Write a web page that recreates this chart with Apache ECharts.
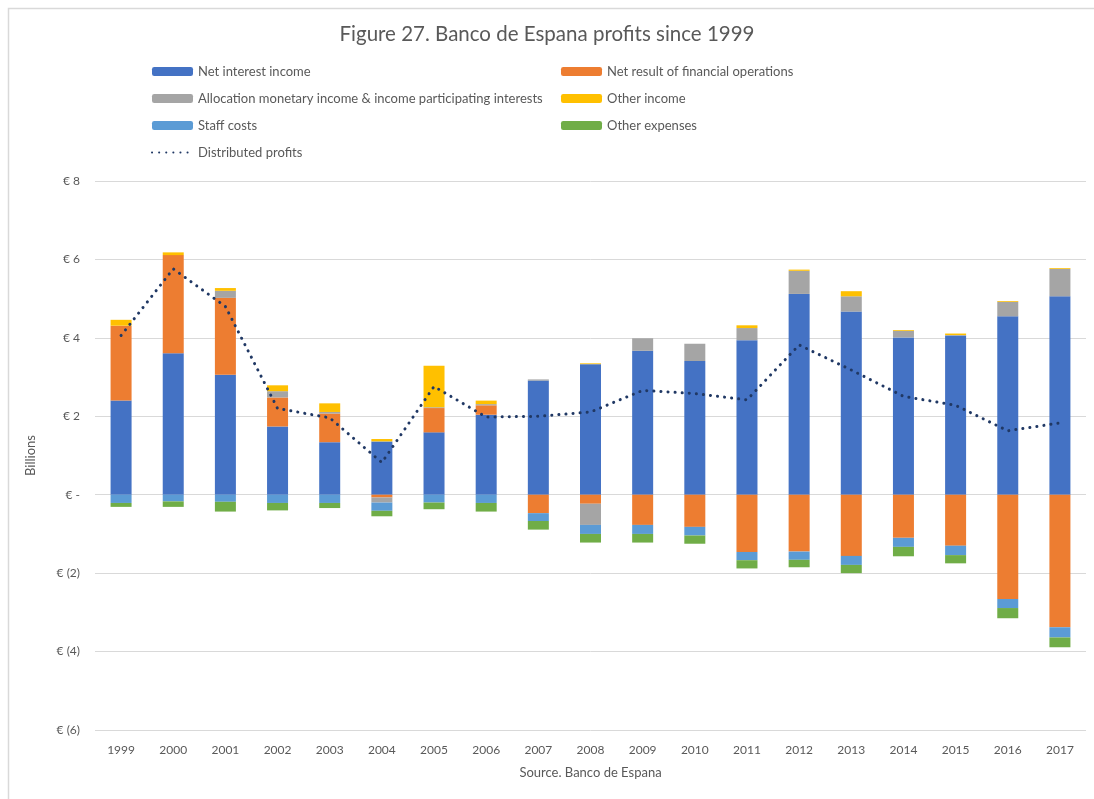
<!DOCTYPE html>
<html lang="en">
<head>
    <meta charset="UTF-8">
    <title>Banco de Espana profits</title>
</head>
<script src="https://cdn.jsdelivr.net/npm/echarts@6/dist/echarts.min.js"></script>
<body style="height: 100%; margin: 0">
<div id="container" style="width:1094px;height:799px;"></div>
<script>
    var years = ["1999","2000","2001","2002","2003","2004","2005","2006","2007","2008","2009","2010","2011","2012","2013","2014","2015","2016","2017"];
    var netInterest = [2.40, 3.61, 3.06, 1.74, 1.34, 1.36, 1.59, 2.04, 2.91, 3.33, 3.67, 3.41, 3.94, 5.12, 4.67, 4.01, 4.06, 4.55, 5.06];
    var netFinancial = [1.91, 2.50, 1.96, 0.74, 0.73, -0.07, 0.62, 0.24, -0.47, -0.23, -0.77, -0.82, -1.46, -1.45, -1.56, -1.10, -1.30, -2.66, -3.38];
    var allocation = [0, 0, 0.18, 0.16, 0.04, -0.13, 0.02, 0.03, 0.03, -0.54, 0.32, 0.44, 0.31, 0.59, 0.39, 0.17, 0.01, 0.37, 0.70];
    var otherIncome = [0.15, 0.07, 0.07, 0.15, 0.22, 0.06, 1.06, 0.09, 0, 0.02, 0, 0, 0.07, 0.03, 0.13, 0.02, 0.04, 0.02, 0.02];
    var staffCosts = [-0.21, -0.17, -0.18, -0.21, -0.21, -0.21, -0.20, -0.21, -0.20, -0.23, -0.23, -0.22, -0.21, -0.21, -0.23, -0.23, -0.24, -0.23, -0.26];
    var otherExpenses = [-0.10, -0.14, -0.25, -0.19, -0.13, -0.14, -0.17, -0.22, -0.22, -0.22, -0.22, -0.21, -0.21, -0.19, -0.21, -0.24, -0.21, -0.26, -0.25];
    var distributed = [4.06, 5.76, 4.80, 2.20, 1.96, 0.82, 2.76, 1.98, 2.00, 2.11, 2.66, 2.58, 2.42, 3.82, 3.18, 2.51, 2.28, 1.63, 1.83];

    var font = "Lato";
    var txt = "#595959";

    function bar(name, data, color) {
        return {
            name: name, type: "bar", stack: "total", data: data,
            barWidth: 21, itemStyle: { color: color },
            emphasis: { disabled: true }
        };
    }

    var legendText = { fontFamily: font, fontSize: 13, color: txt };

    var myChart = echarts.init(document.getElementById("container"), null, { renderer: "canvas" });
    var option = {
        animation: false,
        backgroundColor: "#fff",
        textStyle: { fontFamily: font },
        title: {
            text: "Figure 27. Banco de Espana profits since 1999",
            left: "center", top: 19,
            textStyle: { fontFamily: font, fontSize: 20.5, fontWeight: "normal", color: txt }
        },
        graphic: [{
            type: "rect", left: 6, top: 6,
            shape: { width: 1200, height: 900 },
            style: { fill: "none", stroke: "#d9d9d9", lineWidth: 1.5 },
            silent: true
        }],
        legend: [{
            orient: "vertical", left: 146, top: 60, itemGap: 14,
            itemWidth: 41, itemHeight: 9, textStyle: legendText,
            data: [
                "Net interest income",
                "Allocation monetary income & income participating interests",
                "Staff costs",
                { name: "Distributed profits", itemStyle: { opacity: 0 } }
            ]
        }, {
            orient: "vertical", left: 556, top: 60, itemGap: 14,
            itemWidth: 41, itemHeight: 9, textStyle: legendText,
            data: ["Net result of financial operations", "Other income", "Other expenses"]
        }],
        grid: { left: 95, right: 8, top: 181, bottom: 69 },
        xAxis: {
            type: "category", data: years,
            name: "Source. Banco de Espana", nameLocation: "middle", nameGap: 36,
            nameTextStyle: { fontFamily: font, fontSize: 13, color: txt },
            axisLine: { show: false }, axisTick: { show: false },
            axisLabel: { color: txt, fontSize: 12, margin: 14 }
        },
        yAxis: {
            type: "value", min: -6, max: 8, interval: 2,
            name: "Billions", nameLocation: "middle", nameGap: 58, nameRotate: 90,
            nameTextStyle: { fontFamily: font, fontSize: 13, color: txt },
            axisLabel: {
                color: txt, fontSize: 12, margin: 15,
                formatter: function (v) {
                    if (v === 0) return "€ -";
                    if (v < 0) return "€ (" + (-v) + ")";
                    return "€ " + v;
                }
            },
            splitLine: { lineStyle: { color: "#d9d9d9", width: 1 } }
        },
        series: [
            bar("Net interest income", netInterest, "#4472C4"),
            bar("Net result of financial operations", netFinancial, "#ED7D31"),
            bar("Allocation monetary income & income participating interests", allocation, "#A5A5A5"),
            bar("Other income", otherIncome, "#FFC000"),
            bar("Staff costs", staffCosts, "#5B9BD5"),
            bar("Other expenses", otherExpenses, "#70AD47"),
            {
                name: "Distributed profits", type: "line", data: distributed,
                symbol: "none", z: 5,
                lineStyle: { color: "#203864", width: 3, type: [0.1, 7], cap: "round" },
                itemStyle: { color: "#203864" },
                emphasis: { disabled: true }
            }
        ]
    };
    myChart.setOption(option);
</script>
</body>
</html>
